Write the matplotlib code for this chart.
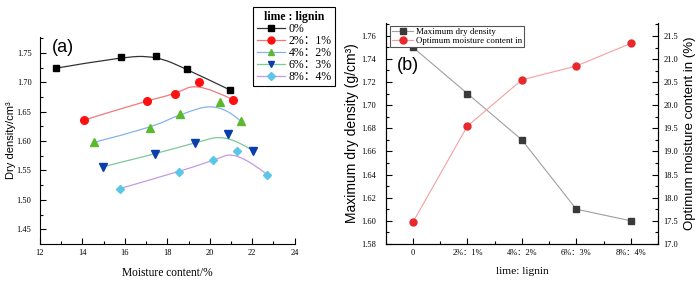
import numpy as np
import matplotlib as mpl
import matplotlib.pyplot as plt
from matplotlib.path import Path
from matplotlib.patches import PathPatch
from matplotlib.lines import Line2D
from matplotlib.ticker import MultipleLocator

mpl.use('Agg')

SERIF = ['Liberation Serif', 'Noto Sans CJK SC']
SANS = ['Liberation Sans', 'DejaVu Sans']
plt.rcParams['font.family'] = SERIF
plt.rcParams['xtick.direction'] = 'in'
plt.rcParams['ytick.direction'] = 'in'

# ~~~~~~~~~~ (a) compaction curves ~~~~~~~~~~ #
labelsA = ['0%', '2%：1%', '4%：2%', '6%：3%', '8%：4%']
moist0 = [12.75, 15.8, 17.45, 18.95, 20.95]
dens0 = [1.724, 1.743, 1.745, 1.722, 1.687]
moist1 = [14.1, 17.05, 18.35, 19.5, 21.1]
dens1 = [1.636, 1.669, 1.680, 1.700, 1.670]
moist2 = [14.55, 17.2, 18.6, 20.5, 21.45]
dens2 = [1.598, 1.622, 1.646, 1.666, 1.634]
moist3 = [14.95, 17.4, 19.3, 20.85, 22.05]
dens3 = [1.556, 1.578, 1.597, 1.612, 1.583]
moist4 = [15.75, 18.55, 20.15, 21.3, 22.7]
dens4 = [1.519, 1.548, 1.567, 1.583, 1.543]

# ~~~~~~~~~~ (b) summary ~~~~~~~~~~ #
ratioLabels = ['0', '2%：1%', '4%：2%', '6%：3%', '8%：4%']
maxDryDensity = [1.750, 1.710, 1.670, 1.610, 1.600]
optMoisture = [17.47, 19.55, 20.55, 20.85, 21.34]

markers = ['s', 'o', '^', 'v', 'D']
markerColors = ['#000000', '#ff1010', '#5cb82e', '#0b3ea8', '#5cc6e6']
lineColors = ['#333333', '#f07a7a', '#86b2e8', '#7cc99a', '#c49ae2']
markerSizes = [5, 5.5, 5.5, 5.5, 4.5]


def splinePath(x, y):
    # quadratic B-spline through the points as control polygon
    pts = np.column_stack([x, y])
    verts = [pts[0]]
    codes = [Path.MOVETO]
    n = len(pts)
    for i in range(1, n - 1):
        end = pts[i + 1] if i == n - 2 else (pts[i] + pts[i + 1]) / 2
        verts += [pts[i], end]
        codes += [Path.CURVE3, Path.CURVE3]
    return Path(verts, codes)


fig = plt.figure(figsize=(7.0, 2.81), dpi=100)

# ---------- panel (a) ----------
ax = fig.add_axes([0.057, 0.132, 0.364, 0.736])
seriesA = [(moist0, dens0), (moist1, dens1), (moist2, dens2),
           (moist3, dens3), (moist4, dens4)]
handles = []
for i, (mx, dy) in enumerate(seriesA):
    ax.add_patch(PathPatch(splinePath(mx, dy), fill=False,
                           edgecolor=lineColors[i], lw=0.9, zorder=2))
    ax.plot(mx, dy, linestyle='none', marker=markers[i], ms=markerSizes[i],
            mfc=markerColors[i], mec=markerColors[i], zorder=3)
    handles.append(Line2D([], [], color=lineColors[i], lw=0.9,
                          marker=markers[i], ms=markerSizes[i] - 0.5,
                          mfc=markerColors[i], mec=markerColors[i]))

ax.set_xlim(12, 24)
ax.set_ylim(1.425, 1.777)
ax.xaxis.set_major_locator(MultipleLocator(2))
ax.xaxis.set_minor_locator(MultipleLocator(1))
ax.yaxis.set_major_locator(MultipleLocator(0.05))
ax.yaxis.set_minor_locator(MultipleLocator(0.025))
ax.yaxis.set_major_formatter(mpl.ticker.FormatStrFormatter('%.2f'))
ax.tick_params(which='major', length=4, width=0.8, labelsize=6)
ax.tick_params(which='minor', length=2, width=0.8)
ax.tick_params(axis='y', pad=6)
ax.tick_params(axis='x', pad=4)
for s in ['top', 'right']:
    ax.spines[s].set_visible(False)
ax.set_xlabel('Moisture content/%', fontsize=8.3, labelpad=7)
ax.set_ylabel('Dry density/cm³', fontsize=8, family=SANS)
ax.yaxis.set_label_coords(-0.093, 0.5)
ax.text(0.047, 0.952, '(a)', transform=ax.transAxes, fontsize=13,
        family=SANS, va='center', ha='left')

leg = fig.legend(handles, labelsA, loc='upper left',
                 bbox_to_anchor=(0.353, 0.995), title='lime : lignin',
                 prop={'family': SERIF, 'size': 8.5}, handlelength=2.4,
                 handletextpad=0.3, labelspacing=0.0, borderpad=0.3,
                 fancybox=False, edgecolor='black', framealpha=1)
leg.get_title().set_fontweight('bold')
leg.get_title().set_fontsize(8.5)
leg.get_frame().set_linewidth(0.8)

# ---------- panel (b) ----------
bx = fig.add_axes([0.551, 0.132, 0.389, 0.786])
xpos = np.arange(len(ratioLabels))
l1, = bx.plot(xpos, maxDryDensity, color='#a0a0a0', lw=0.8, marker='s',
              ms=4.5, mfc='#3a3a3a', mec='#3a3a3a', zorder=3)
bx.set_xlim(-0.5, 4.5)
bx.set_ylim(1.58, 1.771)
bx.set_xticks(xpos)
bx.set_xticklabels(ratioLabels)
bx.xaxis.set_minor_locator(MultipleLocator(0.5))
bx.yaxis.set_major_locator(MultipleLocator(0.02))
bx.yaxis.set_minor_locator(MultipleLocator(0.01))
bx.yaxis.set_major_formatter(mpl.ticker.FormatStrFormatter('%.2f'))
bx.tick_params(which='major', length=4, width=0.8, labelsize=6)
bx.tick_params(which='minor', length=2, width=0.8)
bx.tick_params(axis='y', pad=7)
bx.tick_params(axis='x', pad=4)
bx.spines['top'].set_visible(False)
bx.set_xlabel('lime: lignin', fontsize=8.2, labelpad=7)
bx.set_ylabel('Maximum dry density (g/cm³)', fontsize=10, family=SANS)
bx.yaxis.set_label_coords(-0.097, 0.5)

tx = bx.twinx()
l2, = tx.plot(xpos, optMoisture, color='#f4a0a0', lw=0.8, marker='o',
              ms=5, mfc='#e8282c', mec='#e8282c', zorder=3)
tx.set_ylim(17.0, 21.78)
tx.yaxis.set_major_locator(MultipleLocator(0.5))
tx.yaxis.set_minor_locator(MultipleLocator(0.25))
tx.yaxis.set_major_formatter(mpl.ticker.FormatStrFormatter('%.1f'))
tx.tick_params(which='major', length=4, width=0.8, labelsize=6, pad=4)
tx.tick_params(which='minor', length=2, width=0.8)
tx.spines['top'].set_visible(False)
tx.set_ylabel('Optimum moisture content in (%)', fontsize=9.5, family=SANS)
tx.yaxis.set_label_coords(1.095, 0.5)

bx.text(0.04, 0.81, '(b)', transform=bx.transAxes, fontsize=13,
        family=SANS, va='center', ha='left')
lg2 = tx.legend([l1, l2], ['Maximum dry density',
                           'Optimum moisture content in'],
                loc='upper left', bbox_to_anchor=(0.0, 1.005),
                prop={'family': SERIF, 'size': 6.4}, handlelength=2.4,
                handletextpad=0.3, labelspacing=0.1, borderpad=0.2,
                fancybox=False, edgecolor='#555555', framealpha=1)
lg2.get_frame().set_linewidth(0.8)

fig.savefig('out.png', dpi=100)
